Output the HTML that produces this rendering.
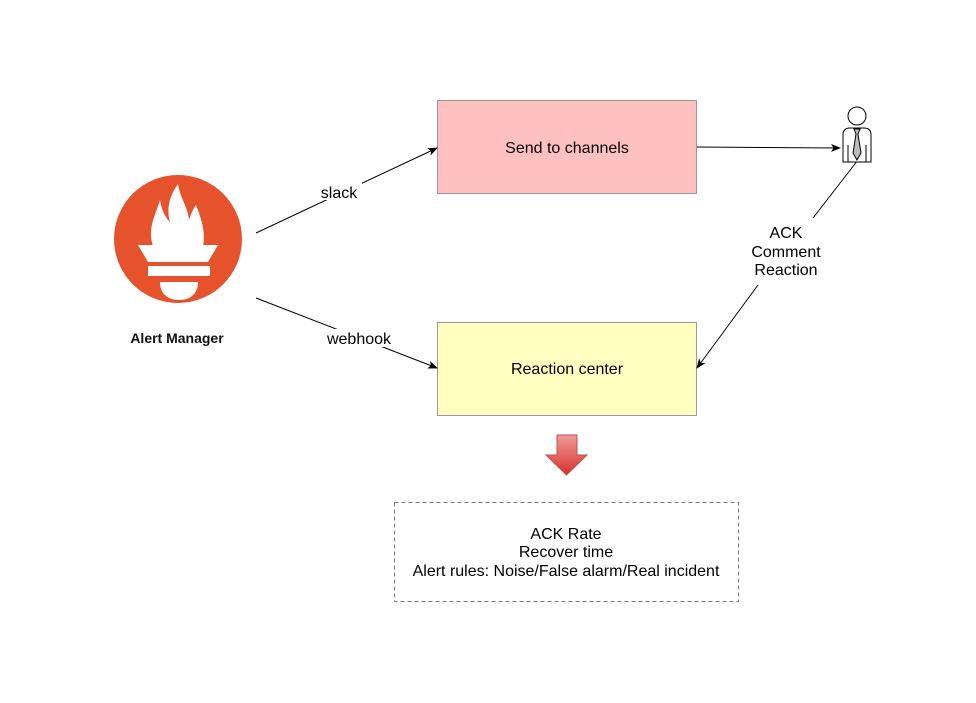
<!DOCTYPE html>
<html><head><style>body{margin:0;background:#fff}svg{display:block}text{font-family:"Liberation Sans",Arial,sans-serif}</style></head><body>
<svg width="976" height="703" viewBox="0 0 976 703" xmlns="http://www.w3.org/2000/svg">
<defs>
<marker id="a" markerWidth="10" markerHeight="8" refX="9" refY="4" orient="auto" markerUnits="userSpaceOnUse"><path d="M0,0 L10,4 L0,8 L2.5,4 Z" fill="#000"/></marker>
<linearGradient id="g" x1="0" y1="0" x2="0" y2="1"><stop offset="0" stop-color="#f19c99"/><stop offset="1" stop-color="#d9302c"/></linearGradient>
</defs>
<circle cx="178" cy="239" r="64" fill="#e6522c"/>
<path d="M153,246 C147,228 156,214 160,200 C162,212 166,218 170,222 C166,208 170,195 178,184 C180,198 188,207 189,220 C191,214 193,209 196,205 C201,218 206,232 203,246 Z" fill="#fff"/>
<path d="M138,245 L218,245 L208,262 L148,262 Z" fill="#fff"/>
<rect x="148" y="266" width="62" height="10" fill="#fff"/>
<path d="M160,282 L198,282 C198,294 190,300 179,300 C168,300 160,294 160,282 Z" fill="#fff"/>
<text x="177" y="343" font-size="14" font-weight="bold" text-anchor="middle" fill="#111">Alert Manager</text>
<rect x="437.5" y="100.5" width="259" height="93" fill="#ffc0c0" stroke="#999"/>
<text x="567" y="153" font-size="16" text-anchor="middle">Send to channels</text>
<rect x="437.5" y="322.5" width="259" height="93" fill="#ffffc0" stroke="#999"/>
<text x="567" y="374" font-size="16" text-anchor="middle">Reaction center</text>
<line x1="256" y1="233" x2="437" y2="148" stroke="#000" marker-end="url(#a)"/>
<rect x="318" y="182" width="44" height="18" fill="#fff"/>
<text x="339" y="198" font-size="16" text-anchor="middle">slack</text>
<line x1="256" y1="298" x2="437" y2="368" stroke="#000" marker-end="url(#a)"/>
<rect x="322" y="329" width="74" height="18" fill="#fff"/>
<text x="359" y="344" font-size="16" text-anchor="middle">webhook</text>
<line x1="697" y1="147" x2="840" y2="148" stroke="#000" marker-end="url(#a)"/>
<line x1="858" y1="160" x2="813" y2="218" stroke="#000"/>
<line x1="758" y1="285" x2="697" y2="368" stroke="#000" marker-end="url(#a)"/>
<text x="786" y="238" font-size="16" text-anchor="middle">ACK</text>
<text x="786" y="257" font-size="16" text-anchor="middle">Comment</text>
<text x="786" y="275" font-size="16" text-anchor="middle">Reaction</text>
<g fill="#fff" stroke="#000" stroke-width="1">
<circle cx="857" cy="116" r="9"/>
<path d="M843,162 L843,135 Q843,128 850,128 L864,128 Q871,128 871,135 L871,162 Z"/>
<path d="M848,162 L848,145 M866,162 L866,145" fill="none"/>
<path d="M854,129 L860,129 L858,134 L861,153 L857,160 L853,153 L856,134 Z" fill="#bbb"/>
</g>
<path d="M557,435 L577,435 L577,455 L587,455 L566.5,475 L546,455 L557,455 Z" fill="url(#g)" stroke="#b85450"/>
<rect x="394.5" y="502.5" width="344" height="99" fill="#fff" stroke="#777" stroke-dasharray="4,3"/>
<text x="566" y="539" font-size="16" text-anchor="middle">ACK Rate</text>
<text x="566" y="557" font-size="16" text-anchor="middle">Recover time</text>
<text x="566" y="576" font-size="16" text-anchor="middle">Alert rules: Noise/False alarm/Real incident</text>
</svg>
</body></html>
